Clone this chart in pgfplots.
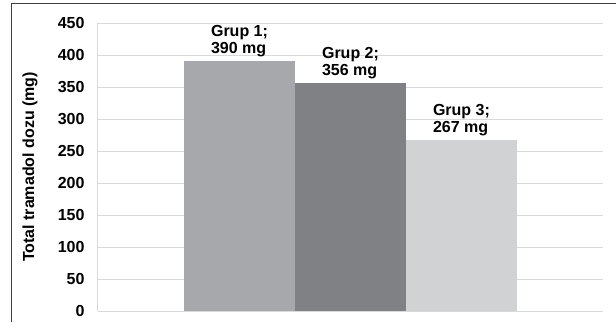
\documentclass[border=0pt]{standalone}
\usepackage{pgfplots}
\pgfplotsset{compat=1.18}
\usepackage{fontspec}
\setmainfont{Liberation Sans}
\definecolor{barA}{HTML}{A7A8AB}
\definecolor{barB}{HTML}{808184}
\definecolor{barC}{HTML}{D1D2D4}
\definecolor{gridc}{HTML}{D9D9D9}
\definecolor{framec}{HTML}{404040}
\begin{document}
\begin{tikzpicture}
\useasboundingbox (-98pt,-11pt) rectangle (518pt,311pt);
\draw[framec, line width=1pt] (-86pt,-11pt) -- (-86pt,307pt) -- (518pt,307pt);
\begin{axis}[
  at={(0pt,0pt)}, anchor=south west,
  scale only axis,
  width=505pt, height=288pt,
  xmin=-1.275, xmax=3.275,
  ymin=0, ymax=450,
  ytick={0,50,...,450},
  xtick=\empty,
  axis x line*=bottom, axis y line*=left,
  axis line style={gridc, line width=1pt, -},
  major tick length=0pt,
  ymajorgrids, grid style={gridc, line width=1pt},
  /pgf/number format/assume math mode=true,
  tick label style={font=\fontsize{16}{17}\selectfont\bfseries},
  yticklabel style={xshift=-10pt},
  ylabel={Total tramadol dozu (mg)},
  ylabel style={at={(axis description cs:-0.1347,0.5)}, anchor=center, font=\fontsize{16}{17}\selectfont\bfseries},
  nodes near coords style={font=\fontsize{16}{17}\selectfont\bfseries, align=left, anchor=south, yshift=1pt},
  clip=false,
]
\addplot[ybar, bar width=1, bar shift=0pt, fill=barA, draw=none,
  nodes near coords={Grup 1;\\\pgfmathprintnumber{\pgfplotspointmeta} mg}] coordinates {(0,390)};
\addplot[ybar, bar width=1, bar shift=0pt, fill=barB, draw=none,
  nodes near coords={Grup 2;\\\pgfmathprintnumber{\pgfplotspointmeta} mg}] coordinates {(1,356)};
\addplot[ybar, bar width=1, bar shift=0pt, fill=barC, draw=none,
  nodes near coords={Grup 3;\\\pgfmathprintnumber{\pgfplotspointmeta} mg}] coordinates {(2,267)};
\end{axis}
\end{tikzpicture}
\end{document}
